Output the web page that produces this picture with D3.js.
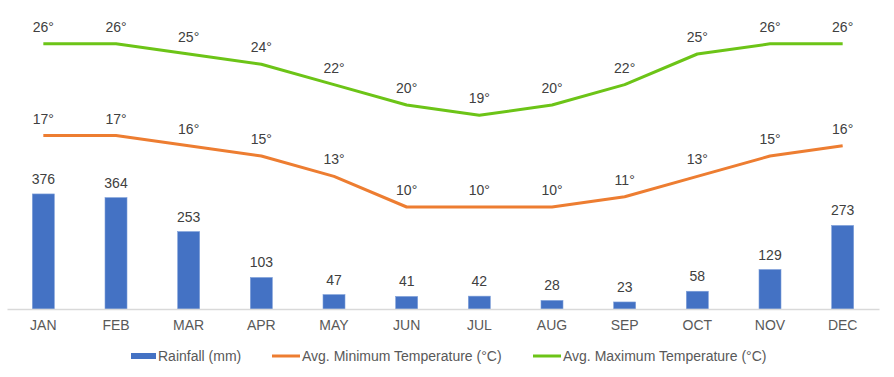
<!DOCTYPE html>
<html>
<head>
<meta charset="utf-8">
<script src="https://cdn.jsdelivr.net/npm/d3@7"></script>
<style>
  body { margin: 0; background: #fff; }
  text { font-family: "Liberation Sans", Arial, sans-serif; }
</style>
</head>
<body>
<div id="chart"></div>
<script>
const months = ["JAN", "FEB", "MAR", "APR", "MAY", "JUN", "JUL", "AUG", "SEP", "OCT", "NOV", "DEC"];
const rainfall = [376, 364, 253, 103, 47, 41, 42, 28, 23, 58, 129, 273];
const minTemp = [17, 17, 16, 15, 13, 10, 10, 10, 11, 13, 15, 16];
const maxTemp = [26, 26, 25, 24, 22, 20, 19, 20, 22, 25, 26, 26];
const legendLabels = ["Rainfall (mm)", "Avg. Minimum Temperature (°C)", "Avg. Maximum Temperature (°C)"];

const width = 894, height = 377;
const plot = {left: 7, right: 879, top: 3, bottom: 309};
const colors = {rain: "#4472c4", min: "#ed7d31", max: "#6cc417"};
const fontSize = "14px";

const svg = d3.select("#chart").append("svg")
    .attr("width", width)
    .attr("height", height);

let x = d3.scaleBand()
    .domain(months)
    .range([plot.left, plot.right]);

let yRain = d3.scaleLinear()
    .domain([0, 1000])
    .range([plot.bottom, plot.top]);

let yTemp = d3.scaleLinear()
    .domain([0, 30])
    .range([plot.bottom, plot.top]);

const barW = 22;

// bars
svg.append("g").selectAll("rect")
    .data(rainfall)
    .join("rect")
    .attr("x", (d, i) => x(months[i]) + x.bandwidth() / 2 - barW / 2)
    .attr("y", d => yRain(d))
    .attr("width", barW)
    .attr("height", d => plot.bottom - yRain(d))
    .attr("fill", colors.rain)
    .attr("stroke", "#7e9fd9")
    .attr("stroke-width", 0.6);

svg.append("g").selectAll("text")
    .data(rainfall)
    .join("text")
    .attr("x", (d, i) => x(months[i]) + x.bandwidth() / 2)
    .attr("y", d => yRain(d) - 10)
    .attr("text-anchor", "middle")
    .attr("font-size", fontSize)
    .attr("fill", "#404040")
    .text(d => d);

// x axis
const xAxis = svg.append("g")
    .attr("transform", "translate(0," + plot.bottom + ")")
    .call(d3.axisBottom(x).tickSize(0).tickPadding(11));
xAxis.select(".domain").attr("stroke", "#d9d9d9").attr("stroke-width", 1.3);
xAxis.selectAll("text")
    .attr("font-size", fontSize)
    .attr("fill", "#595959")
    .style("font-family", "'Liberation Sans', Arial, sans-serif");

// temperature lines
let lineGen = d3.line()
    .x((d, i) => x(months[i]) + x.bandwidth() / 2)
    .y(d => yTemp(d));

[[minTemp, colors.min], [maxTemp, colors.max]].forEach(([data, col]) => {
  svg.append("path")
      .attr("d", lineGen(data))
      .attr("fill", "none")
      .attr("stroke", col)
      .attr("stroke-width", 3)
      .attr("stroke-linejoin", "round");

  svg.append("g").selectAll("text")
      .data(data)
      .join("text")
      .attr("x", (d, i) => x(months[i]) + x.bandwidth() / 2)
      .attr("y", d => yTemp(d) - 12)
      .attr("text-anchor", "middle")
      .attr("font-size", fontSize)
      .attr("fill", "#404040")
      .text(d => d + "°");
});

// legend
const legend = svg.append("g").attr("transform", "translate(0,356)");
const legendX = [131, 272, 533];
legendLabels.forEach((label, i) => {
  const g = legend.append("g").attr("transform", "translate(" + legendX[i] + ",0)");
  if (i == 0) {
    g.append("rect").attr("x", 0).attr("y", -3).attr("width", 25).attr("height", 6)
        .attr("fill", colors.rain);
  } else {
    g.append("line").attr("x1", 0).attr("x2", 28).attr("y1", 0).attr("y2", 0)
        .attr("stroke", i == 1 ? colors.min : colors.max).attr("stroke-width", 3);
  }
  g.append("text")
      .attr("x", i == 0 ? 27 : 30)
      .attr("y", 0)
      .attr("dy", "0.35em")
      .attr("font-size", fontSize)
      .attr("fill", "#595959")
      .text(label);
});
</script>
</body>
</html>
